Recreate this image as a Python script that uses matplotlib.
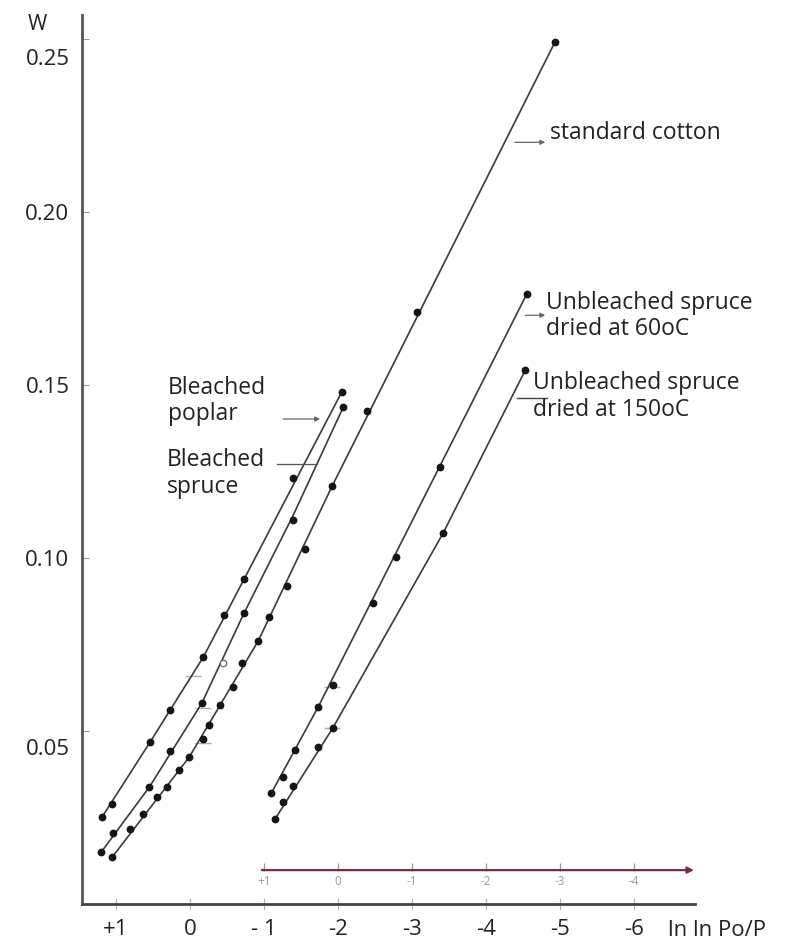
import matplotlib
matplotlib.use("Agg")
import matplotlib.pyplot as plt
from matplotlib.transforms import ScaledTranslation

plt.rcParams["font.family"] = ["Open Sans", "DejaVu Sans"]

# ============================================================
# DATA   x = ln ln Po/P ,  y = W
# ============================================================

# bleached poplar
poplar_x = [1.19, 1.05, 0.54, 0.27, -0.18, -0.46, -0.73, -1.39, -2.05]
poplar_w = [0.0251, 0.0289, 0.0468, 0.0561, 0.0714, 0.0835, 0.0939, 0.1231, 0.1480]
poplar_fit_x = [1.19, 0.54, -0.18, -0.73, -2.05]
poplar_fit_w = [0.0251, 0.0468, 0.0714, 0.0939, 0.1480]

# bleached spruce (one open point)
bspruce_x = [1.20, 1.04, 0.55, 0.27, -0.16, -0.73, -1.39, -2.07]
bspruce_w = [0.0150, 0.0205, 0.0338, 0.0442, 0.0581, 0.0841, 0.1110, 0.1436]
bspruce_open_x = [-0.45]
bspruce_open_w = [0.0697]
bspruce_fit_x = [1.20, 0.55, -0.16, -0.73, -1.39, -2.07]
bspruce_fit_w = [0.0150, 0.0338, 0.0581, 0.0841, 0.1122, 0.1436]

# standard cotton
cotton_x = [1.05, 0.81, 0.64, 0.45, 0.31, 0.15, 0.01, -0.18, -0.26, -0.41,
            -0.58, -0.70, -0.92, -1.07, -1.31, -1.55, -1.92, -2.39, -3.07, -4.93]
cotton_w = [0.0136, 0.0217, 0.0260, 0.0309, 0.0338, 0.0387, 0.0425, 0.0477, 0.0517, 0.0575,
            0.0627, 0.0697, 0.0760, 0.0829, 0.0919, 0.1026, 0.1208, 0.1425, 0.1711, 0.2491]
cotton_fit_x = [1.05, 0.01, -0.92, -1.92, -4.93]
cotton_fit_w = [0.0136, 0.0425, 0.0760, 0.1208, 0.2491]

# unbleached spruce dried at 60 C
ub60_x = [-1.10, -1.26, -1.42, -1.73, -1.93, -2.47, -2.78, -3.38, -4.55]
ub60_w = [0.0321, 0.0367, 0.0445, 0.0569, 0.0633, 0.0870, 0.1003, 0.1263, 0.1763]
ub60_fit_x = [-1.10, -1.73, -4.55]
ub60_fit_w = [0.0321, 0.0569, 0.1763]

# unbleached spruce dried at 150 C
ub150_x = [-1.15, -1.26, -1.39, -1.73, -1.93, -3.42, -4.53]
ub150_w = [0.0246, 0.0295, 0.0341, 0.0454, 0.0509, 0.1072, 0.1543]
ub150_fit_x = [-1.15, -1.93, -3.42, -4.53]
ub150_fit_w = [0.0246, 0.0509, 0.1072, 0.1543]

# little reference dashes left on the scan
dash_x = [-0.04, -0.18, -0.18, -1.92, -1.92]
dash_w = [0.0659, 0.0566, 0.0465, 0.0627, 0.0509]

X_TICKS = [1, 0, -1, -2, -3, -4, -5, -6]
X_LABELS = ["+1", "0", "- 1", "-2", "-3", "-4", "-5", "-6"]
Y_TICKS = [0.05, 0.10, 0.15, 0.20, 0.25]
Y_LABELS = ["0.05", "0.10", "0.15", "0.20", "0.25"]

# second (shifted) scale drawn inside the plot
INNER_TICKS = [1, 0, -1, -2, -3, -4]
INNER_LABELS = ["+1", "0", "-1", "-2", "-3", "-4"]
INNER_SHIFT = -2

# ============================================================
# PLOT
# ============================================================

fig = plt.figure(figsize=(8.02, 9.39), dpi=100)
ax = fig.add_axes([82 / 802, 35 / 939, 720 / 802, 889 / 939])
ax.set_xlim(1.46, -8.27)
ax.set_ylim(0, 0.257)

LINE_C = "#3a3a3a"
DOT_C = "#151515"

series = [
    (poplar_fit_x, poplar_fit_w, poplar_x, poplar_w),
    (bspruce_fit_x, bspruce_fit_w, bspruce_x, bspruce_w),
    (cotton_fit_x, cotton_fit_w, cotton_x, cotton_w),
    (ub60_fit_x, ub60_fit_w, ub60_x, ub60_w),
    (ub150_fit_x, ub150_fit_w, ub150_x, ub150_w),
]
for fx, fw, px, pw in series:
    ax.plot(fx, fw, color=LINE_C, lw=1.2, zorder=2)
    ax.plot(px, pw, "o", color=DOT_C, ms=4.6, zorder=3)

ax.plot(bspruce_open_x, bspruce_open_w, "o", mfc="white", mec="#666",
        mew=0.9, ms=4.6, zorder=3)
ax.plot(dash_x, dash_w, "_", color="#b0b0b0", ms=12, mew=1.0, zorder=1)

# axes look
for s in ["top", "right"]:
    ax.spines[s].set_visible(False)
ax.spines["left"].set_color("#555555")
ax.spines["left"].set_linewidth(2.0)
ax.spines["bottom"].set_color("#444444")
ax.spines["bottom"].set_linewidth(2.0)
ax.spines["bottom"].set_bounds(1.46, -6.82)

ax.set_xticks(X_TICKS)
ax.set_xticklabels(X_LABELS)
ax.set_yticks(Y_TICKS)
ax.set_yticklabels(Y_LABELS)
ax.tick_params(axis="x", direction="inout", length=8, width=0.8, color="#b5b5b5",
               labelsize=16, labelcolor="#222222", pad=7)
ax.tick_params(axis="y", direction="in", length=5, width=0.8, color="#999999",
               labelsize=16, labelcolor="#222222", pad=9)

# the top and bottom W labels sit a little below their ticks on the scan
y_offsets = {"0.25": -0.18, "0.05": -0.16}
for lbl in ax.get_yticklabels():
    dy = y_offsets.get(lbl.get_text(), 0)
    if dy:
        lbl.set_transform(lbl.get_transform()
                          + ScaledTranslation(0, dy, fig.dpi_scale_trans))

fig.text(37 / 802, 1 - 24 / 939, "W", fontsize=15, color="#222222",
         ha="center", va="center")
fig.text(668 / 802, 1 - 930 / 939, "ln ln Po/P", fontsize=16, color="#222222",
         ha="left", va="center")

# inner shifted scale
inner_c = "#7a2a48"
inner_w = 0.0098
ax.annotate("", xy=(-6.81, inner_w), xytext=(-0.97, inner_w),
            arrowprops=dict(arrowstyle="-|>", color=inner_c, lw=1.6,
                            mutation_scale=9, shrinkA=0, shrinkB=0))
inner_pos = [v + INNER_SHIFT for v in INNER_TICKS]
ax.plot(inner_pos, [inner_w + 0.0008] * len(inner_pos), "|", color="#9a9a9a",
        ms=6, mew=0.9)
for p, lab in zip(inner_pos, INNER_LABELS):
    ax.text(p, 0.0064, lab, fontsize=8.5, color="#9a9a9a",
            ha="center", va="center")

# labels and leaders
TXT = dict(fontsize=16.5, color="#222222", ha="left", va="center",
           linespacing=1.15)
LEAD = dict(arrowstyle="-|>", color="#666666", lw=0.9, mutation_scale=7,
            shrinkA=0, shrinkB=0)

ax.text(-4.865, 0.2228, "standard cotton", **TXT)
ax.annotate("", xy=(-4.80, 0.2202), xytext=(-4.39, 0.2202), arrowprops=LEAD)

ax.text(-4.81, 0.1700, "Unbleached spruce\ndried at 60oC", **TXT)
ax.annotate("", xy=(-4.80, 0.1702), xytext=(-4.53, 0.1702), arrowprops=LEAD)

ax.text(-4.635, 0.1467, "Unbleached spruce\ndried at 150oC", **TXT)
ax.plot([-4.42, -4.82], [0.1462, 0.1462], color="#444444", lw=1.0)

ax.text(0.297, 0.1454, "Bleached\npoplar", **TXT)
ax.annotate("", xy=(-1.757, 0.1402), xytext=(-1.257, 0.1402), arrowprops=LEAD)

ax.text(0.31, 0.1244, "Bleached\nspruce", **TXT)
ax.plot([-1.176, -1.716], [0.1272, 0.1272], color="#555555", lw=0.9)

fig.savefig("out.png", dpi=100)
